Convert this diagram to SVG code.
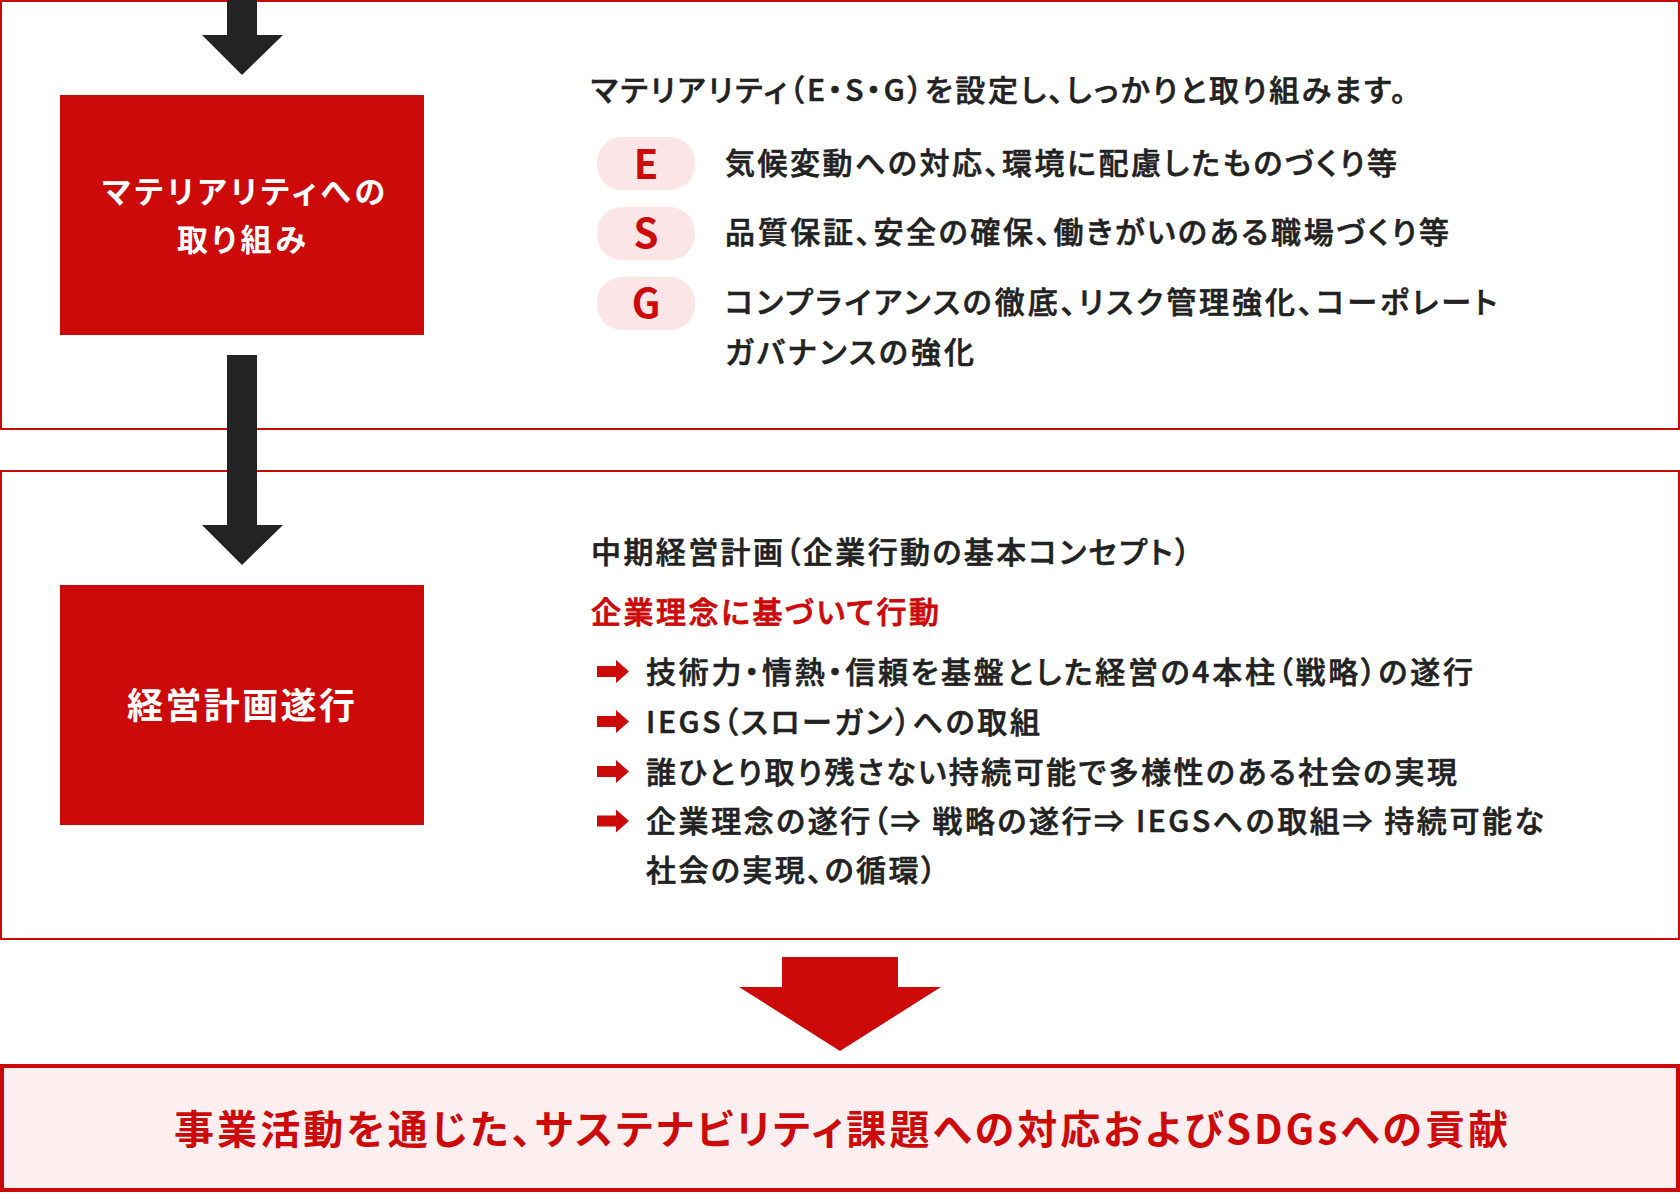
<svg xmlns="http://www.w3.org/2000/svg" width="1680" height="1193" viewBox="0 0 1680 1193">
<style>
  .panel { fill: #ffffff; stroke: #cc0a0a; stroke-width: 2; }
  .rbox { fill: #cc0a0a; }
  .dark { fill: #232323; }
  .red { fill: #cc0a0a; }
  .pill { fill: #fbe5e7; }
  .t { font-family: "Noto Sans CJK JP", "Noto Sans", sans-serif; font-feature-settings: "palt" 1; }
  .body { font-size: 30px; font-weight: 500; fill: #222222; stroke: #222222; stroke-width: 0.6px; }
  .redt { font-size: 30px; font-weight: 500; fill: #cc0a0a; stroke: #cc0a0a; stroke-width: 0.8px; }
  .box { font-weight: 700; fill: #ffffff; }
  .letter { font-size: 40px; font-weight: 700; fill: #cc0a0a; text-anchor: middle; }
  .goal { font-size: 40px; font-weight: 700; fill: #cc0a0a; }
</style>
<rect width="1680" height="1193" fill="#ffffff"/>

<g id="panel-materiality">
  <rect class="panel" x="1" y="1" width="1678" height="428"/>
</g>
<g id="panel-plan">
  <rect class="panel" x="1" y="471" width="1678" height="468"/>
</g>

<g id="node-materiality">
  <rect class="rbox" x="60" y="95" width="364" height="240"/>
  <text class="t box" font-size="31" x="102" y="203" textLength="283" lengthAdjust="spacing">マテリアリティへの</text>
  <text class="t box" font-size="31" x="177" y="251" textLength="129" lengthAdjust="spacing">取り組み</text>
</g>

<g id="materiality-detail">
  <text class="t body" x="591" y="101" textLength="815" lengthAdjust="spacing">マテリアリティ（E・S・G）を設定し、しっかりと取り組みます。</text>
  <g id="row-E">
    <rect class="pill" x="597" y="137" width="98" height="53" rx="25"/>
    <text class="t letter" x="646" y="179">E</text>
    <text class="t body" x="725" y="174" textLength="672" lengthAdjust="spacing">気候変動への対応、環境に配慮したものづくり等</text>
  </g>
  <g id="row-S">
    <rect class="pill" x="597" y="207" width="98" height="53" rx="25"/>
    <text class="t letter" x="646" y="248">S</text>
    <text class="t body" x="725" y="243" textLength="724" lengthAdjust="spacing">品質保証、安全の確保、働きがいのある職場づくり等</text>
  </g>
  <g id="row-G">
    <rect class="pill" x="597" y="277" width="98" height="53" rx="25"/>
    <text class="t letter" x="646" y="318">G</text>
    <text class="t body" x="725" y="313" textLength="772" lengthAdjust="spacing">コンプライアンスの徹底、リスク管理強化、コーポレート</text>
    <text class="t body" x="725" y="363" textLength="249" lengthAdjust="spacing">ガバナンスの強化</text>
  </g>
</g>

<g id="node-plan">
  <rect class="rbox" x="60" y="585" width="364" height="240"/>
  <text class="t box" font-size="36" x="127" y="719" textLength="228" lengthAdjust="spacing">経営計画遂行</text>
</g>

<g id="plan-detail">
  <text class="t body" x="591" y="563" textLength="599" lengthAdjust="spacing">中期経営計画（企業行動の基本コンセプト）</text>
  <text class="t redt" x="591" y="623" textLength="348" lengthAdjust="spacing">企業理念に基づいて行動</text>
  <defs>
    <polygon id="bullet" points="0,-5.5 19,-5.5 19,-11.5 32,0 19,11.5 19,5.5 0,5.5" fill="#cc0a0a"/>
  </defs>
  <use href="#bullet" x="597" y="671.5"/>
  <text class="t body" x="646" y="683" textLength="827" lengthAdjust="spacing">技術力・情熱・信頼を基盤とした経営の4本柱（戦略）の遂行</text>
  <use href="#bullet" x="597" y="721.5"/>
  <text class="t body" x="646" y="733" textLength="394" lengthAdjust="spacing">IEGS（スローガン）への取組</text>
  <use href="#bullet" x="597" y="771.5"/>
  <text class="t body" x="646" y="783" textLength="811" lengthAdjust="spacing">誰ひとり取り残さない持続可能で多様性のある社会の実現</text>
  <use href="#bullet" x="597" y="821"/>
  <text class="t body" x="646" y="832" textLength="898" lengthAdjust="spacing">企業理念の遂行（⇒ 戦略の遂行⇒ IEGSへの取組⇒ 持続可能な</text>
  <text class="t body" x="646" y="881" textLength="290" lengthAdjust="spacing">社会の実現、の循環）</text>
</g>

<g id="node-goal">
  <rect x="2" y="1066" width="1676" height="124" fill="#fdeef0" stroke="#cc0a0a" stroke-width="4"/>
  <text class="t goal" x="174" y="1144" textLength="1334" lengthAdjust="spacing">事業活動を通じた、サステナビリティ課題への対応およびSDGsへの貢献</text>
</g>

<g id="connectors">
  <polygon class="dark" points="227,0 257,0 257,35 283,35 242,75 202,35 227,35"/>
  <polygon class="dark" points="227,355 257,355 257,525 283,525 242,565 202,525 227,525"/>
  <polygon class="red" points="782,957 898,957 898,987 941,987 840,1051 739,987 782,987"/>
</g>
</svg>
